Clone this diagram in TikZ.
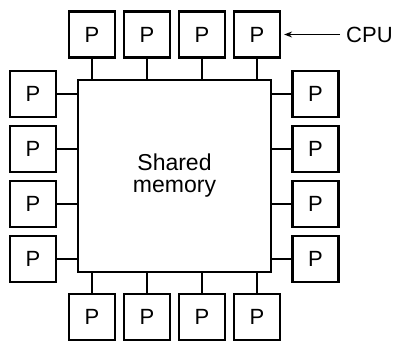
\documentclass[tikz,border=0pt]{standalone}
\usepackage{fontspec}
\setmainfont{Liberation Sans}
\usetikzlibrary{arrows.meta}
\begin{document}
\begin{tikzpicture}[x=1pt,y=-1pt,
  pbox/.style={draw,line width=2.2pt,minimum size=46pt,inner sep=0pt,font=\fontsize{22}{24}\selectfont},
  link/.style={line width=2.2pt},
  memstyle/.style={draw,line width=2.2pt,minimum width=193pt,minimum height=192pt,inner sep=0pt,align=center,font=\fontsize{23}{22}\selectfont}]
\useasboundingbox (0,0) rectangle (397,343);
\node[memstyle] (mem) at (174.5,176) {Shared\\memory};
\foreach \i/\x in {1/92,2/147,3/202,4/257}{
  \node[pbox] (t\i) at (\x,34.5) {P};
  \node[pbox] (b\i) at (\x,317) {P};
  \draw[link] (t\i.south) -- (t\i.south |- mem.north);
  \draw[link] (b\i.north) -- (b\i.north |- mem.south);
}
\foreach \i/\y in {1/94,2/149,3/204,4/259}{
  \node[pbox] (l\i) at (33,\y) {P};
  \node[pbox] (r\i) at (315.5,\y) {P};
  \draw[link] (l\i.east) -- (l\i.east -| mem.west);
  \draw[link] (r\i.west) -- (r\i.west -| mem.east);
}
\node[anchor=west,inner sep=0pt,font=\fontsize{22}{24}\selectfont] (cpu) at (346,34.5) {CPU};
\coordinate (cpuend) at (340,34.5);
\draw[line width=1.2pt,-{Stealth[length=8pt,width=6pt]}] (cpuend) -- ([xshift=3pt]t4.east);
\end{tikzpicture}
\end{document}
